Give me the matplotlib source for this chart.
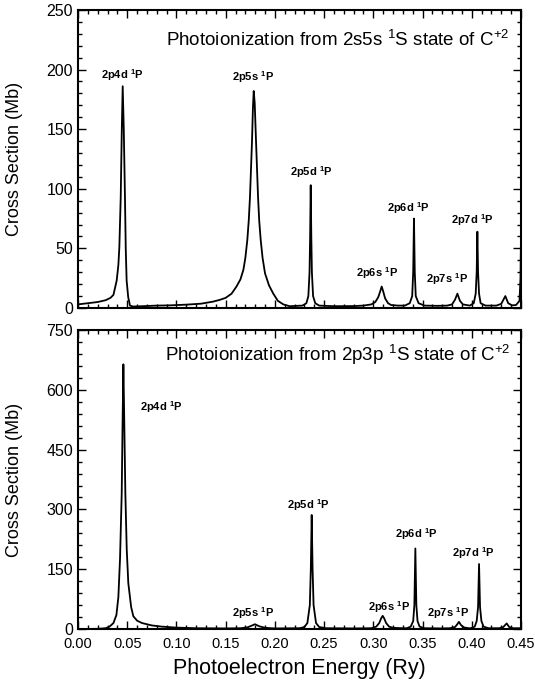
import matplotlib
matplotlib.use('Agg')
import matplotlib.pyplot as plt
from matplotlib.ticker import MultipleLocator, FormatStrFormatter

plt.rcParams['font.family'] = ['Liberation Sans', 'DejaVu Sans']
plt.rcParams['mathtext.default'] = 'regular'

# --- top panel: 2s5s 1S initial state (Ry, Mb)
x_top = [0.000, 0.010, 0.020, 0.028, 0.033, 0.036, 0.0393, 0.041, 0.042, 0.0434,
         0.0445, 0.0454, 0.0465, 0.0477, 0.0485, 0.0494, 0.051, 0.0528, 0.056, 0.065,
         0.080, 0.0935, 0.110, 0.125, 0.137, 0.144, 0.150, 0.156, 0.161, 0.165,
         0.168, 0.170, 0.172, 0.1735, 0.1747, 0.1758, 0.1768, 0.1777, 0.1785, 0.1795,
         0.1808, 0.1818, 0.1829, 0.1841, 0.1856, 0.1875, 0.190, 0.194, 0.1984, 0.203,
         0.2086, 0.215, 0.228,
         0.232, 0.234, 0.2352, 0.2358, 0.2364, 0.2370, 0.2376, 0.2388, 0.241, 0.245,
         0.260, 0.280, 0.290, 0.298, 0.302, 0.305, 0.307, 0.3085, 0.310, 0.312,
         0.315, 0.318, 0.325, 0.332, 0.337, 0.3395, 0.3405, 0.3413, 0.3421, 0.3431,
         0.346, 0.352, 0.365, 0.375, 0.380, 0.383, 0.3854, 0.388, 0.391, 0.398,
         0.402, 0.404, 0.405, 0.4057, 0.4064, 0.4074, 0.409, 0.414, 0.425, 0.430,
         0.4341, 0.437, 0.441, 0.445, 0.4485, 0.4495, 0.4500]
y_top = [3.0, 4.0, 5.0, 6.5, 8.5, 11, 23, 36, 51, 93,
         150, 186, 150, 93, 50, 23, 9, 2, 1.2, 1.5,
         2.0, 2.2, 2.8, 3.6, 5.3, 6.8, 8.5, 12, 18, 24,
         32, 42, 57, 74, 93, 118, 141, 168, 182, 172,
         141, 118, 93, 73, 57, 42, 29, 19, 12, 6,
         3.0, 1.5, 2.0,
         4, 10, 30, 60, 103, 60, 30, 10, 4, 2,
         1.5, 1.6, 2.0, 3.0, 5, 9, 14, 18, 14, 8,
         4, 2.5, 2.0, 2.0, 4, 10, 30, 75, 30, 10,
         4, 2.0, 1.8, 2.0, 3.0, 7, 12, 6, 3.0, 2.0,
         4, 12, 30, 64, 30, 12, 4, 2.0, 2.0, 3.5,
         10, 4, 2.2, 2.5, 6, 25, 58]

# --- bottom panel: 2p3p 1S initial state
x_bot = [0.000, 0.020, 0.028, 0.032, 0.036, 0.039, 0.041, 0.0427, 0.0444, 0.0453,
         0.0461, 0.0470, 0.0481, 0.0495, 0.0511, 0.054, 0.0562, 0.060, 0.065, 0.075,
         0.085, 0.100, 0.120, 0.150, 0.165, 0.172, 0.176, 0.1798, 0.184, 0.190,
         0.200, 0.225, 0.230, 0.233, 0.2355, 0.2365, 0.2374, 0.2383, 0.2393, 0.2418,
         0.245, 0.252, 0.280, 0.298, 0.303, 0.306, 0.308, 0.3095, 0.311, 0.313,
         0.316, 0.320, 0.330, 0.334, 0.338, 0.3405, 0.3417, 0.3427, 0.3437, 0.3449,
         0.347, 0.352, 0.370, 0.378, 0.383, 0.385, 0.387, 0.389, 0.392, 0.397,
         0.399, 0.403, 0.405, 0.4064, 0.4074, 0.4084, 0.4098, 0.412, 0.417, 0.428,
         0.432, 0.4355, 0.438, 0.442, 0.450]
y_bot = [0.0, 0.5, 2, 6, 15, 35, 80, 177, 340, 520,
         664, 520, 340, 200, 115, 55, 32, 21, 15, 9,
         6, 3.5, 2.0, 1.5, 2.0, 4, 8, 12, 7, 3.0,
         1.5, 2.0, 5, 15, 60, 150, 286, 150, 60, 15,
         5, 2.0, 1.5, 2.0, 6, 15, 27, 33, 27, 15,
         6, 3.0, 2.0, 2.0, 6, 20, 60, 202, 60, 20,
         6, 2.0, 1.5, 2.0, 5, 11, 18, 10, 4, 2.0,
         2.0, 6, 20, 55, 163, 55, 20, 6, 2.0, 2.0,
         5, 14, 5, 2.0, 2.0]

top_title = 'Photoionization from 2s5s $^1$S state of C$^{+2}$'
bot_title = 'Photoionization from 2p3p $^1$S state of C$^{+2}$'

# peak labels: (text, x, y)
top_labels = [('2p4d $^1$P', 0.0447, 195), ('2p5s $^1$P', 0.178, 194),
              ('2p5d $^1$P', 0.2374, 114), ('2p6s $^1$P', 0.3034, 29),
              ('2p6d $^1$P', 0.3356, 84), ('2p7s $^1$P', 0.3745, 24),
              ('2p7d $^1$P', 0.4006, 74)]
bot_labels = [('2p4d $^1$P', 0.0843, 557), ('2p5s $^1$P', 0.178, 39),
              ('2p5d $^1$P', 0.234, 311), ('2p6s $^1$P', 0.3162, 56),
              ('2p6d $^1$P', 0.3434, 237), ('2p7s $^1$P', 0.3762, 39),
              ('2p7d $^1$P', 0.4016, 191)]


def style_axes(ax, ymax, ymajor, yminor):
    ax.set_xlim(0, 0.45)
    ax.set_ylim(0, ymax)
    ax.xaxis.set_major_locator(MultipleLocator(0.05))
    ax.xaxis.set_minor_locator(MultipleLocator(0.01))
    ax.yaxis.set_major_locator(MultipleLocator(ymajor))
    ax.yaxis.set_minor_locator(MultipleLocator(yminor))
    ax.tick_params(which='both', direction='in', top=True, right=True, width=1.0)
    ax.tick_params(axis='y', labelsize=11.5)
    ax.tick_params(axis='x', labelsize=10.5, pad=6)
    ax.tick_params(which='major', length=6)
    ax.tick_params(which='minor', length=3)
    for s in ax.spines.values():
        s.set_linewidth(1.5)
    ax.set_ylabel('Cross Section (Mb)', fontsize=13)
    ax.yaxis.set_label_coords(-0.125, 0.5)


fig = plt.figure(figsize=(5.35, 6.87), dpi=100)
ax1 = fig.add_axes([0.1458, 0.5517, 0.828, 0.4338])
ax2 = fig.add_axes([0.1458, 0.0844, 0.828, 0.4352])

ax1.plot(x_top, y_top, color='k', lw=1.3)
style_axes(ax1, 250, 50, 10)
ax1.tick_params(labelbottom=False)
ax1.text(0.587, 0.899, top_title, transform=ax1.transAxes, ha='center', va='center',
         fontsize=13.5)
for t, x, y in top_labels:
    ax1.text(x, y, t, ha='center', va='center', fontsize=8, fontweight='bold')

ax2.plot(x_bot, y_bot, color='k', lw=1.3)
style_axes(ax2, 750, 150, 30)
ax2.xaxis.set_major_formatter(FormatStrFormatter('%.2f'))
ax2.set_xlabel('Photoelectron Energy (Ry)', fontsize=15.5, labelpad=5)
ax2.text(0.587, 0.916, bot_title, transform=ax2.transAxes, ha='center', va='center',
         fontsize=13.5)
for t, x, y in bot_labels:
    ax2.text(x, y, t, ha='center', va='center', fontsize=8, fontweight='bold')

fig.savefig('out.png', dpi=100)
